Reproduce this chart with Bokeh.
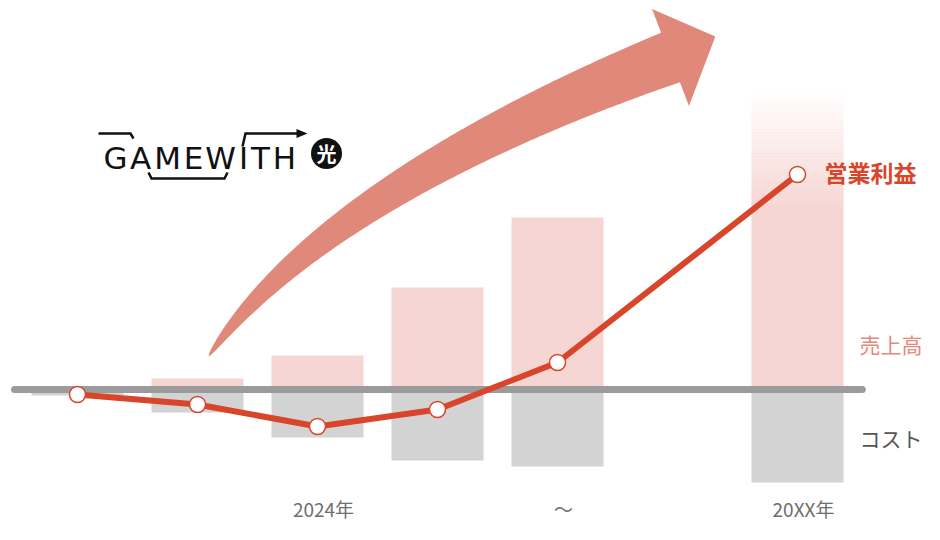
import numpy as np
from bokeh.plotting import figure
from bokeh.models import Range1d
from bokeh.core.properties import value
from bokeh.embed import file_html
from bokeh.resources import INLINE

# ---------------- data ----------------
positions = [0, 1, 2, 3, 4, 6]          # period slots (slot 5 is the "~" gap)
revenue = [2, 11, 34, 102, 172, 306]    # 売上高 (relative units)
cost = [-6, -23, -48, -71, -77, -93]    # コスト
profit = [-5, -15, -37, -20, 27, 215]   # 営業利益
tick_positions = [2, 4, 6]
tick_labels = ["2024年", "〜", "20XX年"]
series_labels = ["営業利益", "売上高", "コスト"]
logo_letters = list("GAMEWITH")

PINK = "#F6D6D3"
GRAY = "#D3D3D3"
RED = "#D9452B"
BASE = "#9B9B9B"
ARROW = "#E0897B"
JP = value("Noto Sans CJK JP")

# pixel helpers for decorations (slot i sits at 77 + 120*i px, zero line at 389 px)
def fx(X):
    return (np.asarray(X, dtype=float) - 77.0) / 120.0

def fy(Y):
    return 389.0 - np.asarray(Y, dtype=float)

p = figure(width=924, height=524, x_range=Range1d(-77 / 120, (924 - 77) / 120), y_range=Range1d(389 - 524, 389),
           output_backend="svg", toolbar_location=None, min_border=0,
           x_axis_location=None, y_axis_location=None)
p.grid.visible = False
p.outline_line_color = None
p.background_fill_color = "white"
p.border_fill_color = "white"

W = 0.767

# ---------------- big decorative arrow ----------------
P0 = np.array([208.0, 356.0]); P1 = np.array([306.0, 214.0])
P2 = np.array([520.0, 114.0]); P3 = np.array([670.0, 57.0])
t = np.linspace(0, 1, 160)[:, None]
B = (1 - t) ** 3 * P0 + 3 * t * (1 - t) ** 2 * P1 + 3 * t ** 2 * (1 - t) * P2 + t ** 3 * P3
D = 3 * (1 - t) ** 2 * (P1 - P0) + 6 * t * (1 - t) * (P2 - P1) + 3 * t ** 2 * (P3 - P2)
D = D / np.linalg.norm(D, axis=1, keepdims=True)
N = np.column_stack([D[:, 1], -D[:, 0]])      # points "up" on screen
h = 26.5 * t[:, 0] ** 0.6
upper = B + N * h[:, None]
lower = B - N * h[:, None]
dend, nend = D[-1], N[-1]
head = np.array([P3 + 52 * nend, P3 + 48 * dend + np.array([0, -4]), P3 - 52 * nend])
poly = np.vstack([upper, head, lower[::-1]])
p.patch(fx(poly[:, 0]), fy(poly[:, 1]), fill_color=ARROW, line_color=None)

# ---------------- bars ----------------
p.vbar(x=positions[:-1], top=revenue[:-1], bottom=0, width=W, fill_color=PINK, line_color=None)
fade_start = revenue[-1] * 0.6
p.vbar(x=[positions[-1]], top=[fade_start], bottom=[0], width=W, fill_color=PINK, line_color=None)
n = 40
edges = np.linspace(fade_start, revenue[-1], n + 1)
alphas = (1 - (np.arange(n) + 0.5) / n) ** 1.2
p.vbar(x=[positions[-1]] * n, bottom=edges[:-1], top=edges[1:] + 0.3, width=W,
       fill_color=PINK, fill_alpha=alphas, line_color=None)
p.vbar(x=positions, top=0, bottom=cost, width=W, fill_color=GRAY, line_color=None)

# ---------------- zero line ----------------
p.line([positions[0] - 0.525, positions[-1] + 0.54], [0, 0], line_width=7, line_color=BASE, line_cap="round")

# ---------------- profit line ----------------
p.line(positions, profit, line_width=6, line_color=RED, line_join="round")
p.scatter(positions, profit, size=16, fill_color="white", line_color=RED, line_width=1.5)

# ---------------- labels ----------------
p.text(x=fx([824]), y=fy([171]), text=[series_labels[0]], text_font=JP, text_font_size="23px",
       text_font_style="bold", text_color=RED, text_align="left", text_baseline="middle")
p.text(x=fx([859]), y=fy([343]), text=[series_labels[1]], text_font=JP, text_font_size="21px",
       text_color="#E8877C", text_align="left", text_baseline="middle")
p.text(x=fx([859]), y=fy([437]), text=[series_labels[2]], text_font=JP, text_font_size="21px",
       text_color="#555555", text_align="left", text_baseline="middle")

p.text(x=[tp + 0.05 for tp in tick_positions], y=[float(fy(508))] * len(tick_positions), text=tick_labels,
       text_font=JP, text_font_size="19px", text_color="#6E6E6E",
       text_align="center", text_baseline="middle")

# ---------------- logo ----------------
letter_x = [115, 140, 167, 193, 220, 243, 260, 284]
p.text(x=fx(letter_x), y=[float(fy(157))] * len(logo_letters), text=logo_letters,
       text_font=value("DejaVu Sans"), text_font_size="31px", text_color="#111111",
       text_align="center", text_baseline="middle")
for seg in ([(98, 133), (130, 133), (133, 138)],
            [(148, 172), (151, 178), (224, 178), (227, 172)],
            [(242, 146), (245, 133), (300, 133)]):
    xs, ys = zip(*seg)
    p.line(fx(xs), fy(ys), line_width=2.5, line_color="#111111", line_join="miter")
p.patch(fx([296, 307, 296]), fy([128.5, 133, 137.5]), fill_color="#111111", line_color=None)
p.scatter(fx([326]), fy([153]), size=31, fill_color="#111111", line_color=None)
p.text(x=fx([326]), y=fy([153]), text=["光"], text_font=JP, text_font_size="20px",
       text_font_style="bold", text_color="white", text_align="center", text_baseline="middle")

open("out.html", "w").write(file_html(p, INLINE))
